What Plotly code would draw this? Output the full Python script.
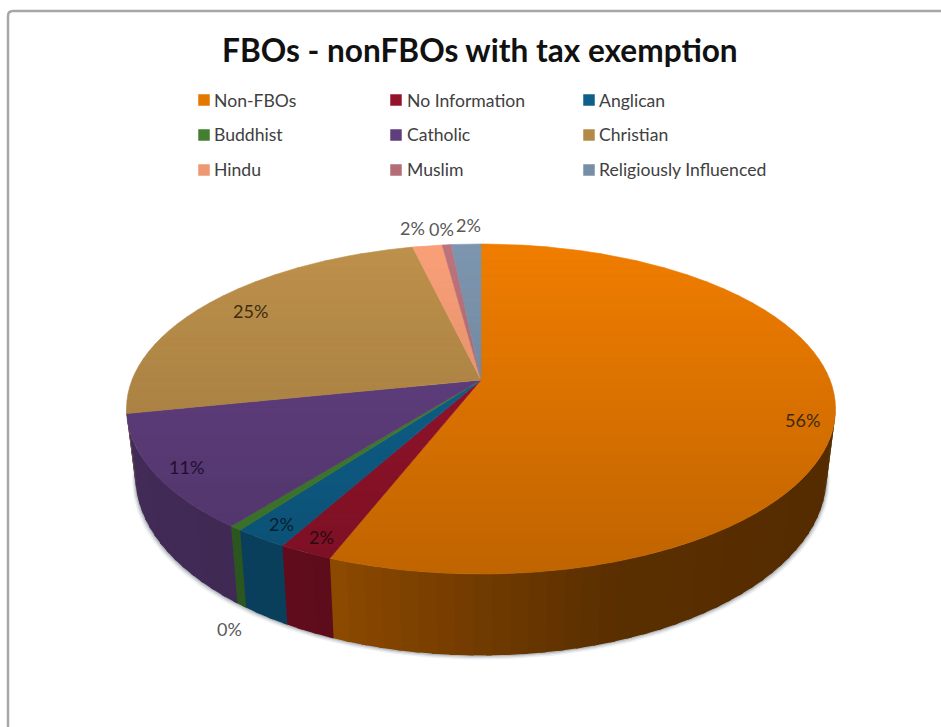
import numpy as np
import plotly.graph_objects as go

# ---- data -------------------------------------------------------------
categories = ["Non-FBOs", "No Information", "Anglican", "Buddhist", "Catholic",
              "Christian", "Hindu", "Muslim", "Religiously Influenced"]
values = [56.0, 2.1, 2.1, 0.49, 11.2, 24.6, 1.6, 0.49, 1.6]
colors = [(240, 125, 0), (155, 20, 45), (15, 100, 145), (70, 135, 50), (100, 65, 132),
          (190, 145, 75), (250, 160, 120), (190, 115, 125), (125, 150, 175)]
title = "FBOs - nonFBOs with tax exemption"

# ---- layout constants --------------------------------------------------
label_xy = [(802, 420), (321, 537), (281, 524), (229, 629), (186, 467),
            (250, 311), (412, 228), (441, 229), (468, 225)]
label_col = ["#3a2a10", "#2a0a12", "#06202f", "#595959", "#201030",
             "#3d2c10", "#595959", "#595959", "#595959"]
swatch_x = [204, 396, 589]
legend_text_x = [212, 405, 597]
swatch_y = [100, 135, 170]
legend_text_y = [100, 134, 169]
FONT = "Lato, Carlito, Calibri, sans-serif"
CX, CY = 481.0, 380.0
A, B, K = 349.0, 159.9, 0.1758
WALL_SX, WALL_SY, WALL_Y0 = 0.975, 1.085, 445.0


def top(theta):
    u, v = np.sin(theta), np.cos(theta)
    w = 1 + K * v
    return CX + A * u / w, CY - B * v / w


def bottom(theta):
    x, y = top(theta)
    return CX + WALL_SX * (x - CX), WALL_Y0 + WALL_SY * (y - CY)


def rgb(c, f):
    return "rgb(%d,%d,%d)" % tuple(int(round(min(255, ch * f))) for ch in c)


def wall_shade(x):
    return float(np.interp(x, [130, 300, 340, 450, 600, 830],
                           [0.66, 0.62, 0.58, 0.49, 0.38, 0.35]))


def top_shade(y):
    return 1 - 0.2 * (y - 244) / 330


def clip_band(pts, y0, y1):
    def clip(poly, inside, cross):
        out = []
        for i in range(len(poly)):
            p, q = poly[i], poly[(i + 1) % len(poly)]
            ip, iq = inside(p), inside(q)
            if ip:
                out.append(p)
            if ip != iq:
                out.append(cross(p, q))
        return out

    def at(yc):
        return lambda p, q: (p[0] + (q[0] - p[0]) * (yc - p[1]) / (q[1] - p[1]), yc)

    poly = clip(pts, lambda p: p[1] >= y0, at(y0))
    if poly:
        poly = clip(poly, lambda p: p[1] <= y1, at(y1))
    return poly


total = sum(values)
edges = np.concatenate([[0], np.cumsum(values)]) / total * 2 * np.pi
fig = go.Figure()


def poly(xs, ys, fill, lw=0.6):
    fig.add_trace(go.Scatter(x=list(xs), y=list(ys), mode="lines", fill="toself",
                             fillcolor=fill, hoverinfo="skip", showlegend=False,
                             line=dict(color=fill if lw else "rgba(0,0,0,0)", width=lw)))


# soft shadow under the wall
front0, front1 = np.arccos(-K), 2 * np.pi - np.arccos(-K)
arc = np.linspace(front0 - 0.15, front1 + 0.15, 160)
bx, by = bottom(arc)
for off, alpha in [(4, 0.10), (2.5, 0.16), (1.2, 0.25)]:
    poly(bx + off * np.sin(arc) * 0.8, by + off, "rgba(90,100,110,%.2f)" % alpha, lw=0)

# wall strips: each overlaps the next so no seams show through
OVER = np.radians(0.8)
for i, c in enumerate(colors):
    a0, a1 = max(edges[i], front0), min(edges[i + 1], front1)
    if a1 <= a0:
        continue
    n = max(1, int((a1 - a0) / np.radians(2.5)))
    t = np.linspace(a0, a1, n + 1)
    for j in range(n):
        end = min(t[j + 1] + OVER, front1)
        s = np.linspace(t[j], end, 5)
        tx, ty = top(s)
        ux, uy = bottom(s)
        f = wall_shade((tx.mean() + ux.mean()) / 2)
        poly(np.r_[tx, ux[::-1]], np.r_[ty, uy[::-1]], rgb(c, f), lw=0)

# top face with a soft vertical gradient
bands = np.arange(240, 580, 7.0)
for i, c in enumerate(colors):
    s = np.linspace(edges[i], edges[i + 1], max(6, int((edges[i + 1] - edges[i]) * 60)))
    ax, ay = top(s)
    pts = [(CX, CY)] + list(zip(ax, ay))
    for y0 in bands:
        p = clip_band(pts, y0, y0 + 7.0)
        if len(p) >= 3:
            poly([q[0] for q in p], [q[1] for q in p], rgb(c, top_shade(y0 + 3.5)))

# legend swatches
lx, ly, lc = [], [], []
ann = []
for i, name in enumerate(categories):
    lx.append(swatch_x[i % 3])
    ly.append(swatch_y[i // 3])
    lc.append(rgb(colors[i], 0.95))
    ann.append(dict(x=legend_text_x[i % 3], y=legend_text_y[i // 3], text=name, showarrow=False,
                    xanchor="left", yanchor="middle",
                    font=dict(family=FONT, size=17.6, color="#404040")))
fig.add_trace(go.Scatter(x=lx, y=ly, mode="markers", hoverinfo="skip", showlegend=False,
                         marker=dict(symbol="square", size=11.5, color=lc, line=dict(width=0))))

# data labels
for v, (x, y), col in zip(values, label_xy, label_col):
    ann.append(dict(x=x, y=y, text="%d%%" % round(v / total * 100), showarrow=False,
                    xanchor="center", yanchor="middle",
                    font=dict(family=FONT, size=18, color=col)))

# title
ann.append(dict(x=479.5, y=49.5, text="<b>%s</b>" % title, showarrow=False, xanchor="center",
                yanchor="middle", font=dict(family=FONT, size=31.6, color="#111111")))

fig.update_layout(
    width=941, height=727, margin=dict(l=0, r=0, t=0, b=0),
    paper_bgcolor="white", plot_bgcolor="white", showlegend=False,
    xaxis=dict(range=[0, 941], visible=False, fixedrange=True),
    yaxis=dict(range=[727, 0], visible=False, fixedrange=True),
    annotations=ann,
    shapes=[dict(type="path", xref="x", yref="y", layer="below",
                 path="M 8 727 L 8 16 Q 8 11 13 11 L 941 11",
                 line=dict(color="#a6a6a6", width=2.5))],
)
fig.write_html("out.html", post_script="document.body.style.margin='0';",
               config={"displayModeBar": False})
